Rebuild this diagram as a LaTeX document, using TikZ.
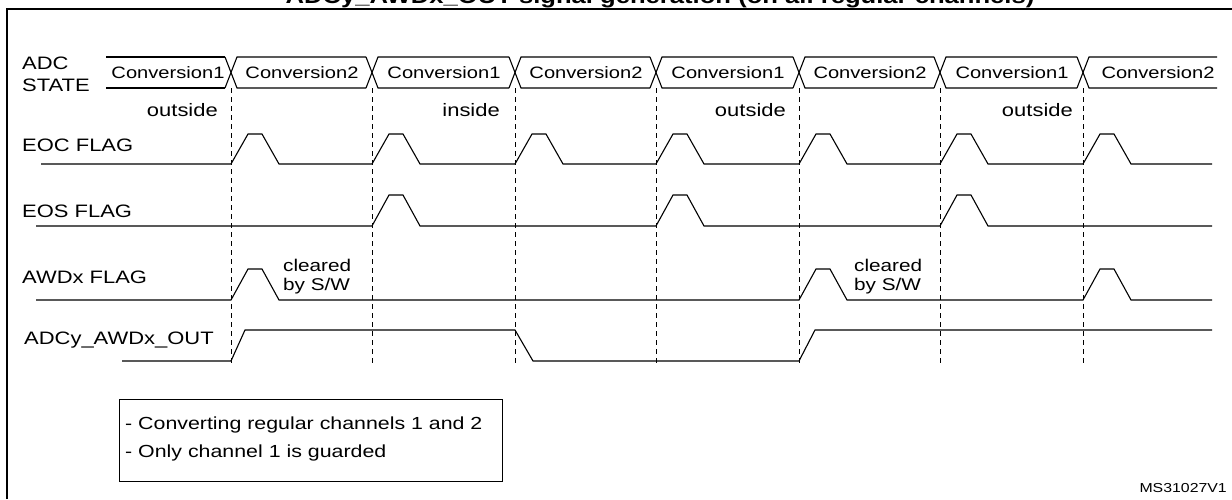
\documentclass[tikz,border=0pt]{standalone}
\usepackage{fontspec}
\setmainfont[FakeStretch=1.22]{Liberation Sans}
\usetikzlibrary{calc}
\begin{document}
\begin{tikzpicture}[x=1pt, y=-1pt]
        % ================= styles =================
        \tikzset{
            % signal traces
            wave/.style={line width=1.1pt, black},
            % time markers
            tick/.style={line width=0.9pt, dash pattern=on 5pt off 4pt},
            % row labels and notes
            lbl/.style={font=\fontsize{18}{20}\selectfont, inner sep=0pt},
            note/.style={font=\fontsize{17.5}{18}\selectfont, inner sep=0pt, align=left}
        }
        \useasboundingbox (0,0) rectangle (1232,499);
        \begin{scope}
        \clip (0,0) rectangle (1232,499);
        \node[font=\bfseries\fontsize{21}{22}\selectfont, inner sep=0pt] (title) at (660,-2)
            {ADCy\_AWDx\_OUT signal generation (on all regular channels)};
        \end{scope}

        % ================= frame =================
        \draw[line width=2pt] (7,499) -- (7,9) -- (1232,9);

        % ================= ADC state bus =================
        \draw[wave] (106,57) -- (225,57);
        \draw[wave] (106,88) -- (225,88);
        \foreach \a/\b in {231/372, 372/515, 515/656, 656/799, 799/940, 940/1083} {
            \draw[wave] (\a-6,57) -- (\a,72.5) -- (\a+6,57) -- (\b-6,57);
            \draw[wave] (\a-6,88) -- (\a,72.5) -- (\a+6,88) -- (\b-6,88);
        }
        \draw[wave] (1077,57) -- (1083,72.5) -- (1089,57) -- (1217,57);
        \draw[wave] (1077,88) -- (1083,72.5) -- (1089,88) -- (1217,88);
        \foreach \c/\t in {168/1, 302/2, 444/1, 586/2, 728/1, 870/2, 1012/1, 1158/2}
            \node[lbl, font=\fontsize{16.5}{18}\selectfont] (conv\c) at (\c,73) {Conversion\t};

        % ================= time markers =================
        \foreach \x in {231, 372, 515, 656, 799, 940, 1083}
            \draw[tick] (\x,88) -- (\x,365);

        % ================= labels =================
        \node[lbl, anchor=west] (adc) at (22,63) {ADC};
        \node[lbl, anchor=west] (state) at (22,85) {STATE};
        \node[lbl, anchor=west] (eoc) at (22,145) {EOC FLAG};
        \node[lbl, anchor=west] (eos) at (22,211) {EOS FLAG};
        \node[lbl, anchor=west] (awd) at (22,277) {AWDx FLAG};
        \node[lbl, anchor=west] (out) at (24,340) {ADCy\_AWDx\_OUT};
        \foreach \x/\t in {218/outside, 500/inside, 786/outside, 1073/outside}
            \node[lbl, anchor=east] at (\x,110) {\t};
        \foreach \x in {283, 854}
            \node[lbl, anchor=west, align=left, font=\fontsize{17}{19}\selectfont] at (\x,277) {cleared\\by S/W};

        % ================= EOC FLAG =================
        \draw[wave] (41,164) -- (231,164)
            \foreach \x/\n in {231/372, 372/515, 515/656, 656/799, 799/940, 940/1083, 1083/1212}
            { -- (\x+17,134) -- (\x+31,134) -- (\x+48,164) -- (\n,164) };

        % ================= EOS FLAG =================
        \draw[wave] (36,226) -- (372,226)
            \foreach \x/\n in {372/656, 656/940, 940/1212}
            { -- (\x+17,195) -- (\x+31,195) -- (\x+48,226) -- (\n,226) };

        % ================= AWDx FLAG =================
        \draw[wave] (36,300) -- (231,300)
            \foreach \x/\n in {231/799, 799/1083, 1083/1212}
            { -- (\x+17,269) -- (\x+31,269) -- (\x+48,300) -- (\n,300) };

        % ================= ADCy_AWDx_OUT =================
        \draw[wave] (122,361) -- (231,361) -- (245,330) -- (515,330) -- (533,361)
            -- (799,361) -- (815,330) -- (1212,330);

        % ================= note =================
        \node[draw, line width=1pt, minimum width=383pt, minimum height=82pt, anchor=north west] (box) at (119,399) {};
        \node[note, anchor=west] (n1) at (125,425) {- Converting regular channels 1 and 2};
        \node[note, anchor=west] (n2) at (125,453) {- Only channel 1 is guarded};
        \node[font=\fontsize{13}{14}\selectfont, anchor=east, inner sep=0pt] (ref) at (1227,488) {MS31027V1};
    \end{tikzpicture}
\end{document}
